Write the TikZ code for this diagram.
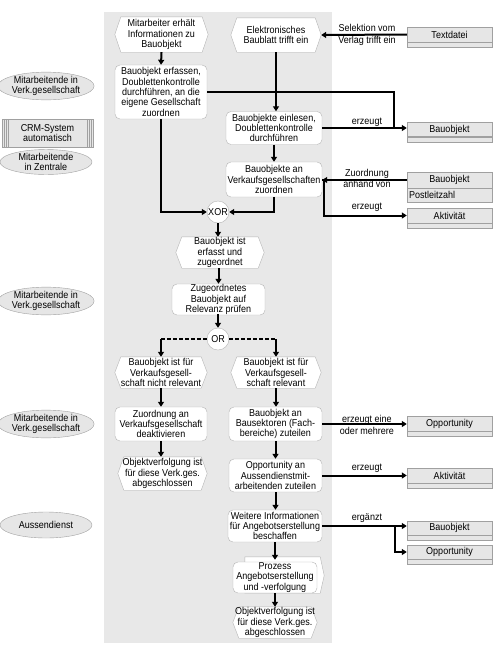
\documentclass[tikz,border=0pt]{standalone}
\usepackage{fontspec}
\setmainfont{Liberation Sans}[FakeStretch=0.9]
\usetikzlibrary{arrows.meta,shapes.geometric,calc}
\pgfdeclarelayer{bg}
\pgfdeclarelayer{mid}
\pgfsetlayers{bg,mid,main}
\definecolor{panel}{HTML}{E8E8E8}
\definecolor{shapeline}{HTML}{B4B4B4}
\definecolor{objfill}{HTML}{E6E6E6}
\definecolor{objline}{HTML}{A0A0A0}
\tikzset{
  txt/.style={font=\fontsize{10}{10.3}\selectfont, align=center, inner sep=0pt},
  lbl/.style={txt, font=\fontsize{10}{12}\selectfont},
  func/.style={txt, rectangle, rounded corners=5pt, draw=shapeline, fill=white},
  evt/.style={txt, rectangle},
  gate/.style={txt, circle, draw=shapeline, fill=white, minimum size=22pt},
  obj/.style={txt, rectangle, draw=objline, fill=objfill, minimum width=85pt, minimum height=15pt},
  objstrip/.style={draw=objline, fill=objfill},
  role/.style={txt, ellipse, draw=objline, fill=objfill, minimum width=92pt, minimum height=24pt},
  conn/.style={line width=2pt, black},
  arr/.style={conn, -{Triangle[length=5pt,width=6pt]}},
  dashconn/.style={conn, dash pattern=on 4pt off 2pt},
  evline/.style={draw=shapeline, fill=white}
}
\newcommand\evshape[1]{%
  \begin{pgfonlayer}{mid}
  \draw[evline] ([xshift=6pt]#1.north west) -- ([xshift=-6pt]#1.north east) -- (#1.east)
     -- ([xshift=-6pt]#1.south east) -- ([xshift=6pt]#1.south west) -- (#1.west) -- cycle;
  \end{pgfonlayer}}
\newcommand\stripbelow[1]{%
  \draw[objstrip] (#1.south west) rectangle ([yshift=-5pt]#1.south east);}
\begin{document}
\begin{tikzpicture}[x=1pt,y=-1pt]
\useasboundingbox (0,0) rectangle (493,646);
\begin{pgfonlayer}{bg}
  \fill[panel] (104,12) rectangle (332,643);
\end{pgfonlayer}

% roles on the left
\node[role] (r1) at (46,86) {Mitarbeitende in\\Verk.gesellschaft};
\node[txt, rectangle, draw=objline, fill=objfill, minimum width=91pt, minimum height=28pt] (crm) at (47.5,133) {CRM-System\\automatisch};
\foreach \dx in {2,4,6} {
  \draw[objline] ([xshift=\dx pt]crm.north west) -- ([xshift=\dx pt]crm.south west);
  \draw[objline] ([xshift=-\dx pt]crm.north east) -- ([xshift=-\dx pt]crm.south east);
}
\node[role, minimum height=22pt] (r2) at (46,162) {Mitarbeitende\\in Zentrale};
\node[role, minimum height=25pt] (r3) at (46,301) {Mitarbeitende in\\Verk.gesellschaft};
\node[role, minimum height=25pt] (r4) at (46,424) {Mitarbeitende in\\Verk.gesellschaft};
\node[role, minimum height=26pt] (r5) at (46,525) {Aussendienst};

% main process
\node[evt, minimum width=93pt, minimum height=35pt] (ev1) at (161.5,34.5) {Mitarbeiter erhält\\Informationen zu\\Bauobjekt};
\evshape{ev1}
\node[evt, minimum width=90pt, minimum height=34pt] (ev2) at (276,35) {Elektronisches\\Baublatt trifft ein};
\evshape{ev2}
\node[func, minimum width=92pt, minimum height=54pt] (fn1) at (161,92) {Bauobjekt erfassen,\\Doublettenkontrolle\\durchführen, an die\\eigene Gesellschaft\\zuordnen};
\node[func, minimum width=96pt, minimum height=33pt] (fn2) at (274,128) {Bauobjekte einlesen,\\Doublettenkontrolle\\durchführen};
\node[func, minimum width=96pt, minimum height=35pt] (fn3) at (274,179.5) {Bauobjekte an\\Verkaufsgesellschaften\\zuordnen};
\node[gate] (xor) at (218,212) {XOR};
\node[evt, minimum width=88pt, minimum height=31pt] (ev3) at (220,252.5) {Bauobjekt ist\\erfasst und\\zugeordnet};
\evshape{ev3}
\node[func, minimum width=93pt, minimum height=31pt] (fn4) at (218.5,299.5) {Zugeordnetes\\Bauobjekt auf\\Relevanz prüfen};
\node[gate] (or) at (218,339) {OR};
\node[evt, minimum width=92pt, minimum height=31pt] (ev4) at (161,372.5) {Bauobjekt ist für\\Verkaufsgesell-\\schaft nicht relevant};
\evshape{ev4}
\node[evt, minimum width=90pt, minimum height=31pt] (ev5) at (276,372.5) {Bauobjekt ist für\\Verkaufsgesell-\\schaft relevant};
\evshape{ev5}
\node[func, minimum width=92pt, minimum height=34pt] (fn5) at (161,424) {Zuordnung an\\Verkaufsgesellschaft\\deaktivieren};
\node[evt, minimum width=89pt, minimum height=33pt] (ev6) at (162.5,473.5) {Objektverfolgung ist\\für diese Verk.ges.\\abgeschlossen};
\evshape{ev6}
\node[func, minimum width=93pt, minimum height=34pt] (fn6) at (275.5,424) {Bauobjekt an\\Bausektoren (Fach-\\bereiche) zuteilen};
\node[func, minimum width=93pt, minimum height=33pt] (fn7) at (275.5,475.5) {Opportunity an\\Aussendienstmit-\\arbeitenden zuteilen};
\node[func, minimum width=94pt, minimum height=32pt] (fn8) at (275,526) {Weitere Informationen\\für Angebotserstellung\\beschaffen};
\node[func, minimum width=84pt, minimum height=31pt] (pr) at (275,577.5) {Prozess\\Angebotserstellung\\und -verfolgung};
\begin{pgfonlayer}{mid}
  \draw[evline] ([xshift=12pt,yshift=5pt]pr.north west) -- ([xshift=3pt,yshift=5pt]pr.north east)
     -- ([xshift=7pt,yshift=2pt]pr.east) -- ([xshift=3pt]pr.south east) -- ([xshift=12pt]pr.south west) -- cycle;
\end{pgfonlayer}
\node[evt, minimum width=84pt, minimum height=31pt] (ev7) at (275,622.5) {Objektverfolgung ist\\für diese Verk.ges.\\abgeschlossen};
\evshape{ev7}

% information objects
\node[obj] (td) at (449.5,34.5) {Textdatei};
\stripbelow{td}
\node[obj, minimum height=14pt] (bo1) at (449.5,129.5) {Bauobjekt};
\stripbelow{bo1}
\node[obj, minimum height=16pt] (bo2) at (449.5,180) {Bauobjekt};
\node[txt, rectangle, draw=objline, fill=objfill, minimum width=85pt, minimum height=14pt, anchor=north, text width=81pt, align=left] (plz) at (bo2.south) {Postleitzahl};
\node[obj] (ak1) at (449.5,215.5) {Aktivität};
\stripbelow{ak1}
\node[obj] (op1) at (449.5,423.5) {Opportunity};
\stripbelow{op1}
\node[obj] (ak2) at (449.5,475.5) {Aktivität};
\stripbelow{ak2}
\node[obj, minimum height=14pt] (bo3) at (449.5,528) {Bauobjekt};
\stripbelow{bo3}
\node[obj, minimum height=14pt] (op2) at (449.5,552) {Opportunity};
\stripbelow{op2}

% control flow
\draw[arr] (ev1.south) -- (fn1.north);
\draw[arr] (fn1.south) |- (xor.west);
\draw[arr] (ev2.south) -- (ev2.south |- fn2.north);
\draw[arr] (fn2.south) -- (fn3.north);
\draw[arr] (fn3.south) |- (xor.east);
\draw[arr] (xor.south) -- (xor.south |- ev3.north);
\draw[arr] (ev3.south -| fn4.north) -- (fn4.north);
\draw[arr] (fn4.south) -- (fn4.south -| or.north) -- (or.north);
\coordinate (orl) at (ev4.north |- or.west);
\coordinate (orr) at (ev5.north |- or.east);
\draw[dashconn] (or.west) -- (orl);
\draw[dashconn] (or.east) -- (orr);
\draw[arr] (orl) -- (ev4.north);
\draw[arr] (orr) -- (ev5.north);
\draw[arr] (ev4.south) -- (fn5.north);
\draw[arr] (fn5.south) -- (fn5.south |- ev6.north);
\draw[arr] (ev5.south) -- (ev5.south |- fn6.north);
\draw[arr] (fn6.south) -- (fn7.north);
\draw[arr] (fn7.south) -- (fn7.south |- fn8.north);
\draw[arr] (fn8.south) -- ([yshift=2pt]pr.north);
\draw[arr] (pr.south) -- (ev7.north);

% information flow
\draw[arr] (td.west) -- (ev2.east);
\node[lbl] (l1) at (367,34.5) {Selektion vom\\Verlag trifft ein};
\coordinate (j1) at (394,128);
\draw[conn] (fn1.east) -| (j1);
\draw[arr] (fn2.east) -- (bo1.west |- fn2.east);
\node[txt] (l2) at (367,122) {erzeugt};
\draw[arr] (bo2.west) -- (fn3.east |- bo2.west);
\node[lbl, font=\fontsize{10}{11}\selectfont] (l3) at (367,178.5) {Zuordnung\\anhand von};
\draw[arr] (fn3.east) -- ++(2,0) |- (ak1.west);
\node[txt] (l4) at (367,207.5) {erzeugt};
\draw[arr] (fn6.east) -- (op1.west |- fn6.east);
\node[lbl] (l5) at (367,425) {erzeugt eine\\oder mehrere};
\draw[arr] (fn7.east) -- (ak2.west |- fn7.east);
\node[txt] (l6) at (367,468) {erzeugt};
\coordinate (j2) at (395,526);
\draw[arr] (fn8.east) -- (bo3.west |- fn8.east);
\draw[arr] (j2) |- (op2.west);
\node[txt] (l7) at (367,518.5) {ergänzt};
\end{tikzpicture}
\end{document}
